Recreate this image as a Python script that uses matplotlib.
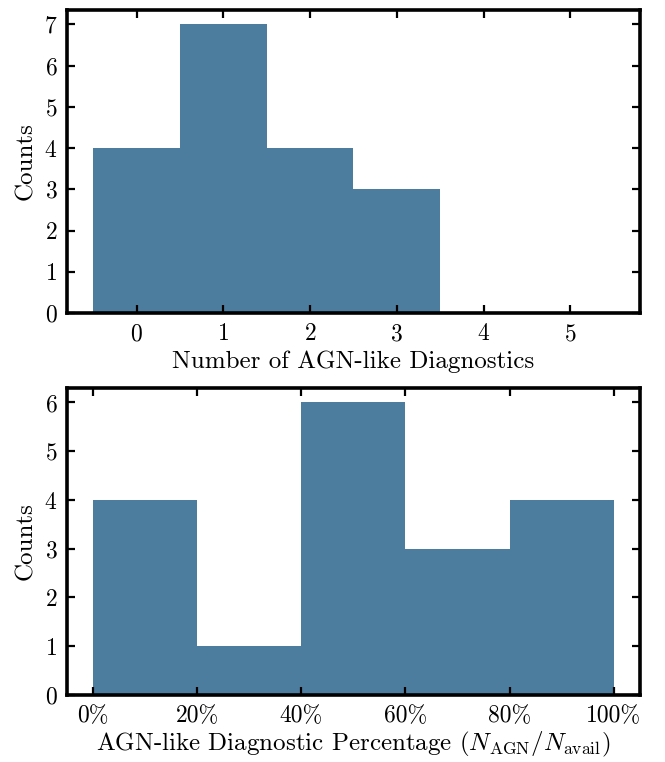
import numpy as np
import matplotlib
matplotlib.use('Agg')
import matplotlib.pyplot as plt
from matplotlib.ticker import FuncFormatter, MultipleLocator

plt.rcParams['font.family'] = 'serif'
plt.rcParams['font.serif'] = ['cmr10', 'DejaVu Serif']
plt.rcParams['mathtext.fontset'] = 'cm'
plt.rcParams['axes.formatter.use_mathtext'] = True

# histogram data
n_diag_edges = [-0.5, 0.5, 1.5, 2.5, 3.5, 4.5, 5.5]
n_diag_counts = [4, 7, 4, 3, 0, 0]
pct_edges = [0.0, 0.2, 0.4, 0.6, 0.8, 1.0]
pct_counts = [4, 1, 6, 3, 4]
pct_ticks = [0, 0.2, 0.4, 0.6, 0.8, 1.0]

bar_color = '#4d7d9e'
fs = 18

fig = plt.figure(figsize=(6.65, 7.62), dpi=100)
ax1 = fig.add_axes([0.101, 0.589, 0.861, 0.398])
ax2 = fig.add_axes([0.101, 0.088, 0.861, 0.403])


def style(ax):
    for s in ax.spines.values():
        s.set_linewidth(2.6)
    ax.tick_params(direction='in', top=True, right=True, length=6, width=1.6,
                   labelsize=fs - 1, pad=7)


ax1.hist(n_diag_edges[:-1], bins=n_diag_edges, weights=n_diag_counts,
         color=bar_color)
ax1.set_xticks(range(6))
ax1.yaxis.set_major_locator(MultipleLocator(1))
ax1.set_xlabel('Number of AGN-like Diagnostics', fontsize=fs, labelpad=4)
ax1.set_ylabel('Counts', fontsize=fs, labelpad=5)
style(ax1)

ax2.hist(pct_edges[:-1], bins=pct_edges, weights=pct_counts, color=bar_color)
ax2.set_xticks(pct_ticks)
ax2.xaxis.set_major_formatter(FuncFormatter(lambda v, p: '%d%%' % round(v * 100)))
ax2.yaxis.set_major_locator(MultipleLocator(1))
ax2.set_xlabel(r'AGN-like Diagnostic Percentage ($N_{\rm AGN}/N_{\rm avail}$)',
               fontsize=fs, labelpad=2)
ax2.set_ylabel('Counts', fontsize=fs, labelpad=5)
style(ax2)

fig.savefig('out.png', dpi=100)
